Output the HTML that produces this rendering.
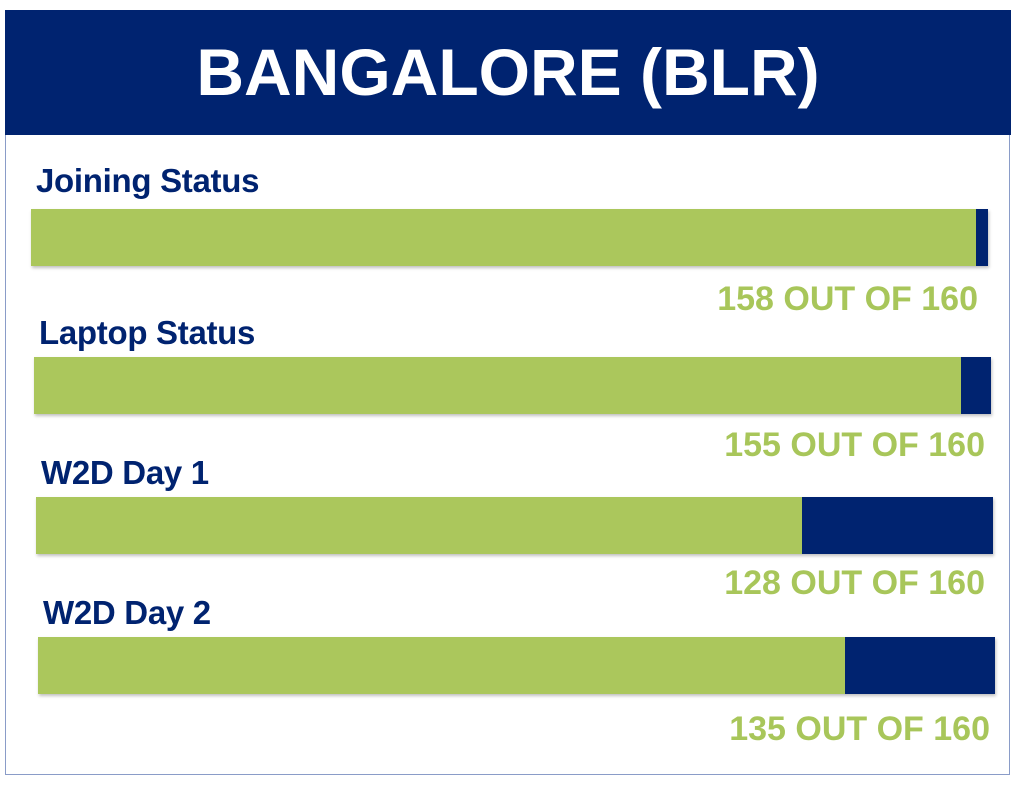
<!DOCTYPE html>
<html><head><meta charset="utf-8"><style>
body{margin:0;width:1017px;height:785px;background:#fff;position:relative;overflow:hidden;font-family:"Liberation Sans",sans-serif}
#frame{position:absolute;left:5px;top:10px;width:1005px;height:765px;border:1px solid #8a9cc8;box-sizing:border-box}
#header{position:absolute;left:5px;top:10px;width:1006px;height:125px;background:#002370;color:#fff;font-weight:bold;font-size:66px;text-align:center;line-height:125px}
.lbl{position:absolute;color:#002370;font-weight:bold;font-size:33px;letter-spacing:-0.3px;white-space:nowrap}
.val{position:absolute;color:#a8c65a;font-weight:bold;font-size:34px;text-align:right;white-space:nowrap}
.bar{position:absolute;height:57px;background:#002370;box-shadow:1px 2px 3px rgba(0,0,0,0.25)}
.bar .g{height:100%;background:#abc75c}
</style></head><body>
<div id="frame"></div>
<div id="header">BANGALORE (BLR)</div>
<div id="chart"></div>
<script>
const categories=["Joining Status","Laptop Status","W2D Day 1","W2D Day 2"];
const doneValues=[158,155,128,135];
const totalValues=[160,160,160,160];
const barLeft=[31,34,36,38], barTop=[209,357,497,637], labelTop=[162,314,454,594], valRight=[978,985,985,990], valTop=[280,426,564,710];
const W=957;
const root=document.getElementById('chart');
categories.forEach((c,i)=>{
  const l=document.createElement('div');l.className='lbl';l.textContent=c;
  l.style.left=(barLeft[i]+5)+'px';l.style.top=labelTop[i]+'px';
  
  
  root.appendChild(l);
  const b=document.createElement('div');b.className='bar';
  b.style.left=barLeft[i]+'px';b.style.top=barTop[i]+'px';b.style.width=W+'px';
  
  
  const g=document.createElement('div');g.className='g';
  g.style.width=(doneValues[i]/totalValues[i]*W)+'px';
  
  
  b.appendChild(g);root.appendChild(b);
  const v=document.createElement('div');v.className='val';
  v.textContent=doneValues[i]+' OUT OF '+totalValues[i];
  v.style.right=(1017-valRight[i])+'px';v.style.top=valTop[i]+'px';
  
  
  root.appendChild(v);
});
</script>
</body></html>
